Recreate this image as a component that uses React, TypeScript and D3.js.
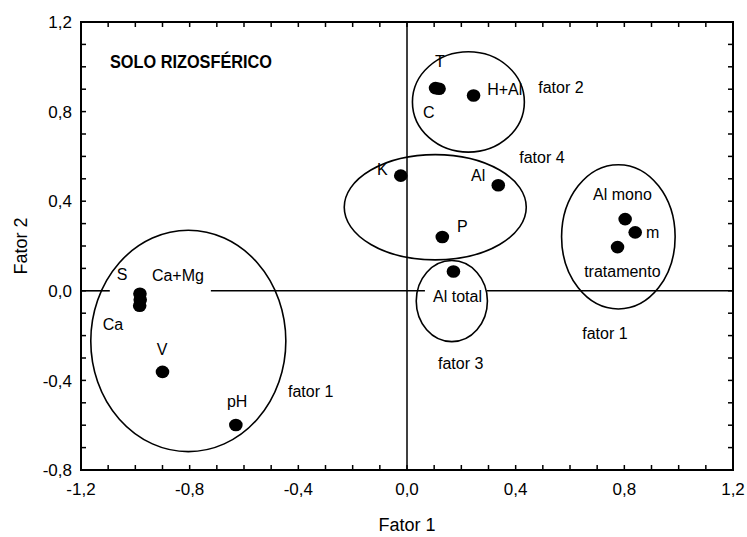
import * as d3 from "d3";

// loadings (Fator 1, Fator 2)
const pointNames = ["S", "Ca+Mg", "Ca", "V", "pH", "T", "C", "H+Al", "K", "Al", "P", "Al total", "Al mono", "m", "tratamento"];
const fator1 = [-0.983, -0.982, -0.984, -0.9, -0.63, 0.105, 0.118, 0.245, -0.023, 0.336, 0.13, 0.171, 0.803, 0.84, 0.775];
const fator2 = [-0.013, -0.04, -0.067, -0.362, -0.599, 0.905, 0.902, 0.872, 0.514, 0.471, 0.24, 0.086, 0.32, 0.261, 0.195];

// label anchors (data units, text start / baseline)
const labelX = [-1.068, -0.939, -1.12, -0.921, -0.663, 0.103, 0.059, 0.295, -0.11, 0.236, 0.184, 0.096, 0.685, 0.88, 0.652];
const labelY = [0.049, 0.045, -0.174, -0.286, -0.519, 0.997, 0.773, 0.876, 0.519, 0.492, 0.264, -0.049, 0.407, 0.237, 0.063];

// groups drawn as ellipses
const groupNames = ["fator 1", "fator 2", "fator 4", "fator 3", "fator 1"];
const groupCx = [-0.805, 0.226, 0.104, 0.165, 0.778];
const groupCy = [-0.224, 0.843, 0.373, -0.046, 0.241];
const groupRx = [0.359, 0.206, 0.335, 0.131, 0.209];
const groupRy = [0.494, 0.224, 0.235, 0.181, 0.322];
const groupLabelX = [-0.438, 0.483, 0.413, 0.114, 0.645];
const groupLabelY = [-0.474, 0.881, 0.572, -0.349, -0.215];

const xTicks = [-1.2, -0.8, -0.4, 0.0, 0.4, 0.8, 1.2];
const yTicks = [-0.8, -0.4, 0.0, 0.4, 0.8, 1.2];
// gaps in the horizontal zero line
const zeroGaps = [[-1.094, -0.722], [0.066, 0.294]];

const W = 747;
const H = 537;
const left = 81, right = 733, top = 22, bottom = 470;

export default function App() {
  const x = d3.scaleLinear().domain([-1.2, 1.2]).range([left, right]);
  const y = d3.scaleLinear().domain([-0.8, 1.2]).range([bottom, top]);
  const fmt = (v: number) => d3.format(".1f")(v).replace(".", ",").replace("−", "-");

  const minorX = d3.range(-12, 13).map((i) => i / 10);
  const minorY = d3.range(-8, 13).map((i) => i / 10);

  // zero line segments
  const segs: number[][] = [];
  let start = -1.2;
  zeroGaps.forEach(([a, b]) => {
    segs.push([start, a]);
    start = b;
  });
  segs.push([start, 1.2]);

  const font = "'Liberation Sans', Arial, sans-serif";
  const tick = 5;

  return (
    <svg width={W} height={H} style={{ position: "absolute", left: 0, top: 0, background: "#fff" }} fontFamily={font}>
      <rect x={0} y={0} width={W} height={H} fill="#fff" />

      {/* zero lines */}
      <line x1={x(0)} x2={x(0)} y1={top} y2={bottom} stroke="#000" strokeWidth={1.5} />
      {segs.map((s, i) => (
        <line key={i} x1={x(s[0])} x2={x(s[1])} y1={y(0)} y2={y(0)} stroke="#000" strokeWidth={1.6} />
      ))}

      {/* ellipses */}
      {groupCx.map((cx, i) => (
        <ellipse key={i} cx={x(cx)} cy={y(groupCy[i])}
          rx={x(groupRx[i]) - x(0)} ry={y(0) - y(groupRy[i])}
          fill="none" stroke="#000" strokeWidth={1.6} />
      ))}

      {/* points */}
      {fator1.map((v, i) => (
        <ellipse key={i} cx={x(v)} cy={y(fator2[i])} rx={6.8} ry={6.3} fill="#000" />
      ))}

      {/* point labels */}
      {pointNames.map((n, i) => (
        <text key={i} x={x(labelX[i])} y={y(labelY[i])} fontSize={16} fill="#000">{n}</text>
      ))}
      {groupNames.map((n, i) => (
        <text key={i} x={x(groupLabelX[i])} y={y(groupLabelY[i])} fontSize={16} fill="#000">{n}</text>
      ))}

      <text x={110} y={68} fontSize={18} fontWeight="bold" textLength={162} lengthAdjust="spacingAndGlyphs"
        fontFamily="'Liberation Sans Narrow', 'Arial Narrow', 'Liberation Sans', sans-serif">SOLO RIZOSFÉRICO</text>

      {/* frame */}
      <rect x={left} y={top} width={right - left} height={bottom - top} fill="none" stroke="#000" strokeWidth={2} />

      {/* ticks */}
      {minorX.map((v, i) => (
        <g key={i}>
          <line x1={x(v)} x2={x(v)} y1={bottom} y2={bottom - tick} stroke="#000" strokeWidth={1.5} />
          <line x1={x(v)} x2={x(v)} y1={top} y2={top + tick} stroke="#000" strokeWidth={1.5} />
        </g>
      ))}
      {minorY.map((v, i) => (
        <g key={i}>
          <line x1={left} x2={left + tick} y1={y(v)} y2={y(v)} stroke="#000" strokeWidth={1.5} />
          <line x1={right} x2={right - tick} y1={y(v)} y2={y(v)} stroke="#000" strokeWidth={1.5} />
        </g>
      ))}

      {/* tick labels */}
      {xTicks.map((v, i) => (
        <text key={i} x={x(v)} y={bottom + 25} fontSize={17} textAnchor="middle">{fmt(v)}</text>
      ))}
      {yTicks.map((v, i) => (
        <text key={i} x={left - 9} y={y(v)} dy="0.36em" fontSize={17} textAnchor="end">{fmt(v)}</text>
      ))}

      {/* axis titles */}
      <text x={x(0)} y={531} fontSize={18} textAnchor="middle">Fator 1</text>
      <text transform={`translate(27, ${y(0.2)}) rotate(-90)`} fontSize={18} textAnchor="middle">Fator 2</text>
    </svg>
  );
}
